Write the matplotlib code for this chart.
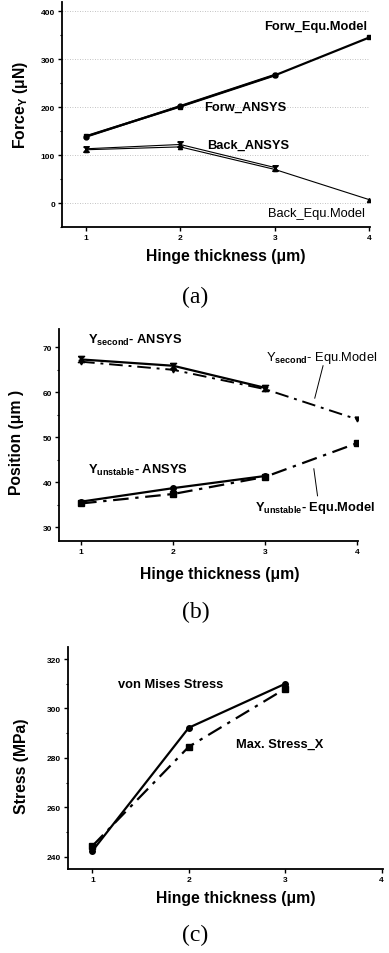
import matplotlib
matplotlib.use("Agg")
import matplotlib.pyplot as plt
from matplotlib.ticker import MultipleLocator

plt.rcParams['font.family'] = ['Liberation Sans', 'DejaVu Sans']
plt.rcParams['font.weight'] = 'bold'
plt.rcParams['mathtext.fontset'] = 'custom'
plt.rcParams['mathtext.rm'] = 'Liberation Sans:bold'
plt.rcParams['mathtext.bf'] = 'Liberation Sans:bold'
plt.rcParams['mathtext.it'] = 'Liberation Sans:bold'

# ---------------- data ----------------
thick_a = [1, 2, 3, 4]
forw_equ = [139, 201, 266, 345]
forw_ansys_x = [1, 2, 3]
forw_ansys = [138, 202, 267]
back_ansys_x = [1, 2, 3]
back_ansys = [113, 122, 74]
back_equ = [111, 117, 70, 7]

thick_b = [1, 2, 3, 4]
ysec_ansys_x = [1, 2, 3]
ysec_ansys = [67.3, 65.9, 61.0]
ysec_equ = [66.8, 65.0, 60.7, 54.0]
yuns_ansys_x = [1, 2, 3]
yuns_ansys = [35.7, 38.7, 41.4]
yuns_equ = [35.3, 37.4, 41.2, 48.7]

thick_c = [1, 2, 3]
von_mises = [242.3, 292.2, 310.0]
max_stress_x = [244.3, 284.5, 308.0]

W, H = 389, 954
fig = plt.figure(figsize=(W / 100, H / 100), dpi=100)

def px_axes(l, t, r, b):
    return fig.add_axes([l / W, 1 - b / H, (r - l) / W, (b - t) / H])

def style(ax):
    for s in ['top', 'right']:
        ax.spines[s].set_visible(False)
    for s in ['left', 'bottom']:
        ax.spines[s].set_linewidth(1.3)
    ax.tick_params(axis='both', which='major', direction='out', length=3, width=1,
                   labelsize=6, pad=2)
    ax.tick_params(axis='y', which='minor', direction='out', length=1.8, width=0.8)
    ax.tick_params(axis='x', which='minor', length=0)
    for lab in ax.get_xticklabels() + ax.get_yticklabels():
        lab.set_fontweight('bold')

hourglass = [(-1, 1), (1, 1), (-1, -1), (1, -1), (-1, 1)]
dashdot = (0, (7, 3, 1.5, 3))
LBL = 9.3
AXL = 11.3

def ftext(x, y, s, size=AXL, rot=0, family=None, weight='bold'):
    kw = {}
    if family:
        kw['family'] = family
    fig.text(x / W, 1 - y / H, s, fontsize=size, rotation=rot, ha='center',
             va='center', fontweight=weight, **kw)

# ---------------- (a) ----------------
ax = px_axes(62.1, 2.5, 370.2, 228)
ax.set_xlim(0.75, 4.01)
ax.set_ylim(-50, 420)
for yv in [0, 100, 200, 300, 400]:
    ax.axhline(yv, color='#b0b0b0', lw=0.6, ls=(0, (1, 2)), zorder=0)
ax.plot(thick_a, forw_equ, color='black', lw=1.6, marker='s', ms=3.5)
ax.plot(forw_ansys_x, forw_ansys, color='black', lw=1.6, marker='o', ms=3.5)
ax.plot(back_ansys_x, back_ansys, color='black', lw=0.8, marker=hourglass, ms=4)
ax.plot(thick_a, back_equ, color='black', lw=0.8, marker='^', ms=3)
ax.set_xticks([1, 2, 3, 4])
ax.set_yticks([0, 100, 200, 300, 400])
ax.yaxis.set_minor_locator(MultipleLocator(50))
style(ax)
ax.text(2.887, 369, 'Forw_Equ.Model', fontsize=LBL, fontweight='bold', ha='left', va='center')
ax.text(2.252, 201, 'Forw_ANSYS', fontsize=LBL, fontweight='bold', ha='left', va='center')
ax.text(2.284, 122, 'Back_ANSYS', fontsize=LBL, fontweight='bold', ha='left', va='center')
ax.text(2.929, -21, 'Back_Equ.Model', fontsize=LBL, fontweight='normal', ha='left', va='center')
ftext(21, 105, 'Force$_{Y}$ (\u03bcN)', rot=90)
ftext(226, 257, 'Hinge thickness (\u03bcm)')
ftext(195, 297, '(a)', size=17, family='Liberation Serif', weight='normal')

# ---------------- (b) ----------------
ax = px_axes(59, 330.3, 358, 541.8)
ax.set_xlim(0.76, 4.01)
ax.set_ylim(27, 74)
ax.plot(ysec_ansys_x, ysec_ansys, color='black', lw=1.6, marker=hourglass, ms=4.5)
ax.plot(thick_b, ysec_equ, color='black', lw=1.4, ls=dashdot, marker='v', ms=3.5)
ax.plot(yuns_ansys_x, yuns_ansys, color='black', lw=1.6, marker='o', ms=4)
ax.plot(thick_b, yuns_equ, color='black', lw=1.6, ls=dashdot, marker='s', ms=4)
ax.set_xticks([1, 2, 3, 4])
ax.set_yticks([30, 40, 50, 60, 70])
ax.yaxis.set_minor_locator(MultipleLocator(5))
style(ax)
ax.text(1.076, 71.8, 'Y$_{second}$- ANSYS', fontsize=LBL, ha='left', va='center')
ax.text(3.013, 67.8, 'Y$_{second}$- Equ.Model', fontsize=LBL, fontweight='normal', ha='left', va='center')
ax.text(1.076, 42.8, 'Y$_{unstable}$- ANSYS', fontsize=LBL, ha='left', va='center')
ax.text(2.893, 34.4, 'Y$_{unstable}$- Equ.Model', fontsize=LBL, ha='left', va='center')
ax.plot([3.63, 3.54], [65.9, 58.7], color='black', lw=0.7)
ax.plot([3.57, 3.53], [37.0, 43.0], color='black', lw=0.7)
ftext(17, 442, 'Position (\u03bcm )', rot=90)
ftext(220, 575, 'Hinge thickness (\u03bcm)')
ftext(196, 612, '(b)', size=17, family='Liberation Serif', weight='normal')

# ---------------- (c) ----------------
ax = px_axes(68.2, 647.7, 382.7, 870)
ax.set_xlim(0.75, 4.01)
ax.set_ylim(235, 325)
ax.plot(thick_c, von_mises, color='black', lw=1.6, marker='o', ms=4)
ax.plot(thick_c, max_stress_x, color='black', lw=1.6, ls=dashdot, marker='s', ms=4)
ax.set_xticks([1, 2, 3, 4])
ax.set_yticks([240, 260, 280, 300, 320])
ax.yaxis.set_minor_locator(MultipleLocator(10))
style(ax)
ax.text(1.266, 309.8, 'von Mises Stress', fontsize=LBL, ha='left', va='center')
ax.text(2.486, 285.5, 'Max. Stress_X', fontsize=LBL, ha='left', va='center')
ftext(22, 766, 'Stress (MPa)', rot=90)
ftext(236, 899, 'Hinge thickness (\u03bcm)')
ftext(195, 935, '(c)', size=17, family='Liberation Serif', weight='normal')

fig.savefig('out.png', dpi=100)
